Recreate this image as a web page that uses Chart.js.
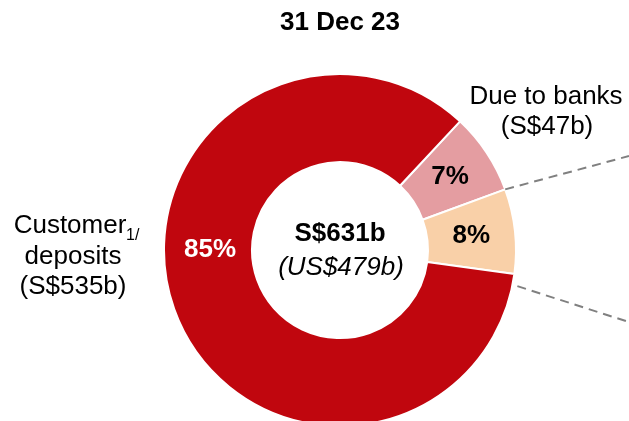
<!DOCTYPE html>
<html>
<head>
<meta charset="utf-8">
<script src="https://cdn.jsdelivr.net/npm/chart.js@4.4.1/dist/chart.umd.min.js"></script>
<style>
    html, body { margin: 0; padding: 0; background: #ffffff; }
    #wrap { position: relative; width: 629px; height: 421px; overflow: hidden; }
</style>
</head>
<body>
<div id="wrap"><canvas id="myChart" width="629" height="421"></canvas></div>
<script>
// funding mix at 31 Dec 23, S$ billions
const categories = ["Due to banks", "Others", "Customer deposits"];
const values = [47, 49, 535];
const colours = ["#E49DA1", "#F9D0A8", "#C0060E"];
const pctColours = ["#000000", "#000000", "#ffffff"];
const titleText = "31 Dec 23";
const totalText = "S$631b";
const totalUsdText = "(US$479b)";

const FONT = "'Liberation Sans', Arial, sans-serif";

let total = values.reduce((a, b) => a + b, 0);

const labelsPlugin = {
    id: 'labelsPlugin',
    afterDatasetsDraw(chart) {
        let ctx = chart.ctx;
        let arcs = chart.getDatasetMeta(0).data;
        let cx = arcs[0].x;
        let cy = arcs[0].y;

        ctx.save();
        ctx.textAlign = 'center';
        ctx.textBaseline = 'middle';

        // percentages on the slices
        for (let i = 0; i < arcs.length; i++) {
            let arc = arcs[i];
            let pos = arc.tooltipPosition();
            if (i == 2) {
                // big slice: label sits at 9 o'clock
                let r = (arc.innerRadius + arc.outerRadius) / 2;
                pos = { x: cx - r + 2, y: cy };
            }
            ctx.fillStyle = pctColours[i];
            ctx.font = "bold 26px " + FONT;
            ctx.fillText(Math.round(values[i] / total * 100) + "%", pos.x, pos.y);
        }

        // centre text
        ctx.fillStyle = "#000000";
        ctx.font = "bold 26px " + FONT;
        ctx.fillText(totalText, cx, cy - 16);
        ctx.font = "italic 26px " + FONT;
        ctx.fillText(totalUsdText, cx + 1, cy + 18);

        // outside labels
        ctx.font = "26px " + FONT;
        ctx.fillText("Due to banks", 546, 97);
        ctx.fillText("(S$" + values[0] + "b)", 547, 127);

        ctx.fillText("Customer", 70, 226);
        ctx.fillText("deposits", 73, 257);
        ctx.fillText("(S$" + values[2] + "b)", 73, 287);
        ctx.font = "16px " + FONT;
        ctx.textAlign = 'left';
        ctx.fillText("1/", 126, 236);

        // dashed leader lines from the "Others" slice
        let other = arcs[1];
        ctx.strokeStyle = "#808080";
        ctx.lineWidth = 2;
        ctx.setLineDash([9, 6]);
        ctx.beginPath();
        let a1 = other.startAngle;
        let r1 = other.outerRadius;
        ctx.moveTo(cx + r1 * Math.cos(a1), cy + r1 * Math.sin(a1));
        ctx.lineTo(629, 156);
        let a2 = other.endAngle + 0.065;
        let r2 = other.outerRadius + 5;
        ctx.moveTo(cx + r2 * Math.cos(a2), cy + r2 * Math.sin(a2));
        ctx.lineTo(629, 322);
        ctx.stroke();
        ctx.restore();
    }
};

const ctx = document.getElementById('myChart').getContext('2d');
let chart = new Chart(ctx, {
    type: 'doughnut',
    data: {
        labels: categories,
        datasets: [{
            data: values,
            backgroundColor: colours,
            borderColor: "#ffffff",
            borderWidth: 2
        }]
    },
    options: {
        responsive: false,
        animation: false,
        cutout: '50%',
        radius: 176,
        rotation: 43,
        layout: {
            padding: { left: 164, right: 113, top: 0, bottom: 0 }
        },
        plugins: {
            legend: { display: false },
            tooltip: { enabled: false },
            title: {
                display: true,
                text: titleText,
                color: "#000000",
                font: { family: FONT, size: 26, weight: 'bold', lineHeight: 1.2 },
                padding: { top: 7, bottom: 41 }
            }
        }
    },
    plugins: [labelsPlugin]
});
</script>
</body>
</html>
